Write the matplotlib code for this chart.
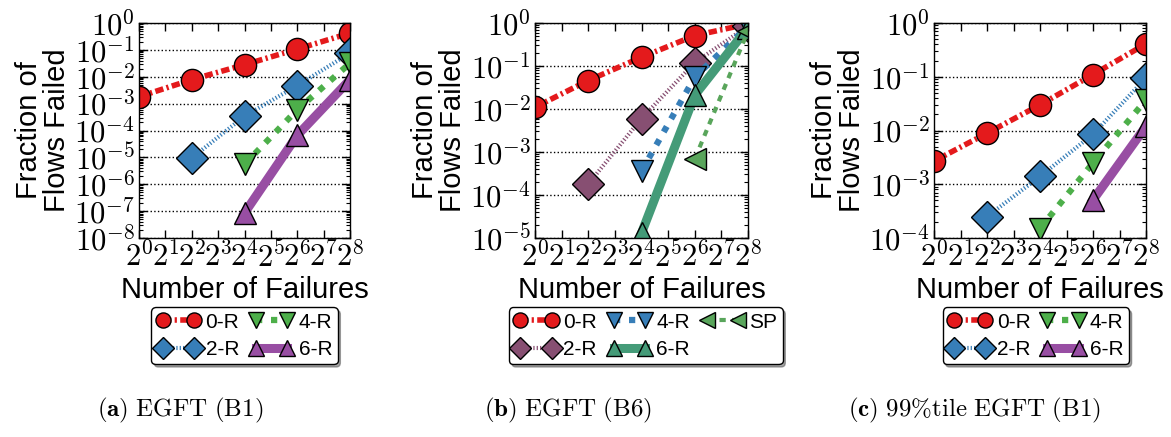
import numpy as np
import matplotlib
matplotlib.use("Agg")
import matplotlib.pyplot as plt
from matplotlib.ticker import LogLocator, FuncFormatter, NullLocator, NullFormatter

plt.rcParams['mathtext.fontset'] = 'cm'
plt.rcParams['font.family'] = ['Liberation Sans', 'DejaVu Sans']

nan = np.nan
failures = [1, 4, 16, 64, 256]
xtick_exps = list(range(0, 9))

# Panel (a) EGFT (B1)
a_0R = [1.8e-3, 7.8e-3, 0.028, 0.107, 0.42]
a_2R = [nan, 9.5e-6, 3.4e-4, 4.7e-3, 0.076]
a_4R = [nan, nan, 5.5e-6, 5.9e-4, 0.032]
a_6R = [nan, nan, 8.5e-8, 6.6e-5, 7.8e-3]

# Panel (b) EGFT (B6)
b_0R = [0.011, 0.046, 0.16, 0.51, 0.95]
b_2R = [nan, 1.8e-4, 6.0e-3, 0.12, 0.85]
b_4R = [nan, nan, 3.6e-4, 0.055, 0.85]
b_6R = [nan, nan, 1.3e-5, 0.021, 0.78]
b_SP = [nan, nan, nan, 6.9e-4, 0.65]

# Panel (c) 99%tile EGFT (B1)
c_0R = [2.7e-3, 8.9e-3, 0.030, 0.11, 0.41]
c_2R = [nan, 2.5e-4, 1.4e-3, 8.5e-3, 0.095]
c_4R = [nan, nan, 1.5e-4, 2.5e-3, 0.037]
c_6R = [nan, nan, nan, 5.1e-4, 0.012]

captions = [r'$\mathbf{(a)}\ \mathrm{EGFT\ (B1)}$',
            r'$\mathbf{(b)}\ \mathrm{EGFT\ (B6)}$',
            r'$\mathbf{(c)}\ \mathrm{99\%tile\ EGFT\ (B1)}$']

RED, BLUE, GREEN, PURPLE = '#e41a1c', '#377eb8', '#4daf4a', '#984ea3'
B_2R, B_6R, B_SP = '#874f72', '#449b78', '#59a55b'

ST = {
    '0-R': dict(marker='o', dashes=(1.5, 0.6, 0.4, 0.6), lw=4),
    '2-R': dict(marker='D', dashes=(0.3, 0.5), lw=3),
    '4-R': dict(marker='v', dashes=(1.0, 1.4), lw=4.5),
    '6-R': dict(marker='^', dashes=None, lw=6.5),
    'SP': dict(marker='<', dashes=(1.5, 1.5), lw=3),
}

W, H = 1171, 437
fig = plt.figure(figsize=(W / 100, H / 100), dpi=100)


def make_ax(left_px, right_px, series, ymin, leg_x, ncol):
    ax = fig.add_axes([left_px / W, 1 - 238 / H, (right_px - left_px) / W, 215 / H])
    for name, vals, color in series:
        s = ST[name]
        kw = dict(color=color, lw=s['lw'], marker=s['marker'], markersize=16,
                  markerfacecolor=color, markeredgecolor='black', markeredgewidth=1,
                  label=name)
        line, = ax.plot(failures, vals, **kw)
        if s['dashes'] is not None:
            line.set_dashes(s['dashes'])
    ax.set_xscale('log', base=2)
    ax.set_yscale('log')
    ax.set_xlim(1, 256)
    ax.set_ylim(ymin, 1)
    ax.set_xticks([2 ** k for k in xtick_exps])
    ax.set_xticklabels([r'$2^{%d}$' % k for k in xtick_exps])
    ax.xaxis.set_minor_locator(NullLocator())
    ax.yaxis.set_major_locator(LogLocator(base=10, numticks=30))
    ax.yaxis.set_minor_locator(LogLocator(base=10, subs=np.arange(2, 10), numticks=30))
    ax.yaxis.set_minor_formatter(NullFormatter())
    ax.yaxis.set_major_formatter(FuncFormatter(
        lambda v, p: r'$10^{%d}$' % int(round(np.log10(v)))))
    ax.tick_params(axis='both', which='both', direction='in', top=True, right=True,
                   labelsize=22)
    ax.tick_params(axis='both', which='major', length=6, width=1, pad=3)
    ax.tick_params(axis='y', which='minor', length=3, width=0.8)
    ax.yaxis.grid(True, which='major', linestyle=':', color='black', lw=1)
    ax.set_ylabel('Fraction of\nFlows Failed', fontsize=21, linespacing=1.0, labelpad=2)
    ax.set_xlabel('Number of Failures', fontsize=21, labelpad=1)
    leg = ax.legend(loc='center', bbox_to_anchor=(leg_x, -0.455), ncol=ncol,
                    numpoints=2, fontsize=15, handlelength=2.1, handletextpad=0.25,
                    columnspacing=0.5, labelspacing=0.4, borderpad=0.25,
                    borderaxespad=0, fancybox=True, shadow=True, framealpha=1,
                    markerscale=0.68)
    leg.get_frame().set_edgecolor('black')
    for sp in ax.spines.values():
        sp.set_linewidth(1)
    return ax


make_ax(139, 350, [('0-R', a_0R, RED), ('2-R', a_2R, BLUE),
                   ('4-R', a_4R, GREEN), ('6-R', a_6R, PURPLE)], 1e-8, 0.5, 2)
make_ax(535, 748, [('0-R', b_0R, RED), ('2-R', b_2R, B_2R),
                   ('4-R', b_4R, BLUE), ('6-R', b_6R, B_6R),
                   ('SP', b_SP, B_SP)], 1e-5, 0.52, 3)
make_ax(934, 1146, [('0-R', c_0R, RED), ('2-R', c_2R, BLUE),
                    ('4-R', c_4R, GREEN), ('6-R', c_6R, PURPLE)], 1e-4, 0.48, 2)

for xc, cap in zip([180, 568, 975], captions):
    fig.text(xc / W, 1 - 410 / H, cap, ha='center', va='center', fontsize=18)

fig.savefig('out.png', dpi=100)
